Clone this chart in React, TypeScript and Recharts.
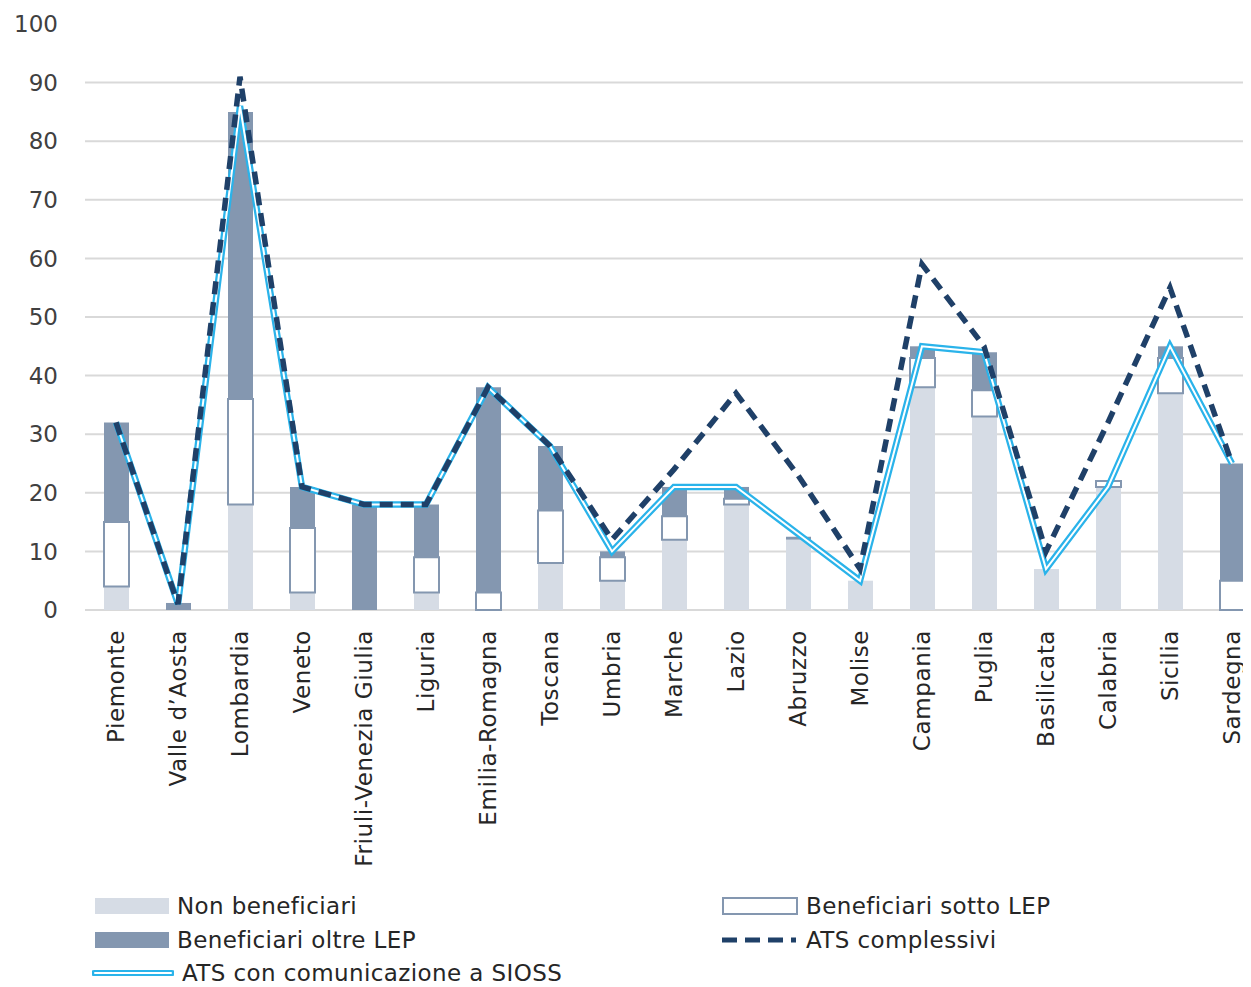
import { ComposedChart, Bar, Line, XAxis, YAxis, CartesianGrid } from 'recharts';

const categories = [
  'Piemonte', 'Valle d’Aosta', 'Lombardia', 'Veneto', 'Friuli-Venezia Giulia', 'Liguria',
  'Emilia-Romagna', 'Toscana', 'Umbria', 'Marche', 'Lazio', 'Abruzzo', 'Molise',
  'Campania', 'Puglia', 'Basilicata', 'Calabria', 'Sicilia', 'Sardegna',
];

const nonBeneficiari = [4, 0, 18, 3, 0, 3, 0, 8, 5, 12, 18, 12, 5, 38, 33, 7, 21, 37, 0];
const sottoLep = [11, 0, 18, 11, 0, 6, 3, 9, 4, 4, 1, 0, 0, 5, 4.5, 0, 1, 6, 5];
const oltreLep = [17, 1.2, 49, 7, 18, 9, 35, 11, 1, 5, 2, 0.5, 0, 2, 6.5, 0, 0, 2, 20];
const atsComplessivi = [32, 1, 91, 21, 18, 18, 38, 28, 12, 24, 37, 23, 7, 59, 45, 10, 32, 55, 25];
const atsSioss = [32, 1, 86, 21, 18, 18, 38, 28, 10, 21, 21, 13, 5, 45, 44, 7, 21, 45, 25];

const yTicks = [0, 10, 20, 30, 40, 50, 60, 70, 80, 90, 100];

const LIGHT = '#d6dce5';
const STEEL = '#8497b0';
const NAVY = '#1f4068';
const CYAN = '#2ab3ea';
const FONT = '"DejaVu Sans", sans-serif';

const W = 1290;
const H = 979;
const TOP = 16;
const PLOT_H = 586;

const data = categories.map((name, i) => ({
  name,
  non: nonBeneficiari[i],
  sotto: sottoLep[i],
  oltre: oltreLep[i],
  ats: atsComplessivi[i],
  sioss: atsSioss[i],
  siossInner: atsSioss[i],
}));

// no gridline on 100, like the original
const gridPoints = yTicks.filter(v => v < 100).map(v => TOP + PLOT_H * (1 - v / 100));

const XTick = (props: any) => {
  const { x, y, payload } = props;
  const ty = y + 20;
  return (
    <text
      x={x}
      y={ty}
      transform={`rotate(-90, ${x}, ${ty})`}
      textAnchor="end"
      dy="0.36em"
      fontSize={23}
      fontFamily={FONT}
      fill="#262626"
      letterSpacing={0.6}
    >
      {payload.value}
    </text>
  );
};

const legendText: React.CSSProperties = {
  fontFamily: FONT,
  fontSize: 23,
  lineHeight: '23px',
  color: '#262626',
  whiteSpace: 'nowrap',
  letterSpacing: 0.4,
};

function LegendItem({ left, cy, swatch, label }: { left: number; cy: number; swatch: React.ReactNode; label: string }) {
  return (
    <div style={{ position: 'absolute', left, top: cy - 12, height: 24, display: 'flex', alignItems: 'center' }}>
      {swatch}
      <span style={{ ...legendText, marginLeft: 8 }}>{label}</span>
    </div>
  );
}

export default function App() {
  return (
    <div style={{ position: 'relative', width: 1243, height: H, overflow: 'hidden', background: '#fff' }}>
      <ComposedChart
        width={W}
        height={H}
        data={data}
        margin={{ top: TOP, right: 35, left: 0, bottom: 77 }}
      >
        <CartesianGrid vertical={false} horizontalPoints={gridPoints} stroke="#d9d9d9" strokeWidth={2} />
        <XAxis
          dataKey="name"
          interval={0}
          axisLine={false}
          tickLine={false}
          tickSize={0}
          tickMargin={0}
          height={300}
          tick={<XTick />}
        />
        <YAxis
          domain={[0, 100]}
          ticks={yTicks}
          width={77}
          axisLine={false}
          tickLine={false}
          tickSize={0}
          tickMargin={27}
          tick={{ fontSize: 23, fontFamily: FONT, fill: '#404040' }}
        />
        <Bar dataKey="non" stackId="a" barSize={25} fill={LIGHT} isAnimationActive={false} />
        <Bar dataKey="sotto" stackId="a" barSize={25} fill="#ffffff" stroke={STEEL} strokeWidth={2} isAnimationActive={false} />
        <Bar dataKey="oltre" stackId="a" barSize={25} fill={STEEL} isAnimationActive={false} />
        <Line type="linear" dataKey="sioss" stroke={CYAN} strokeWidth={6.5} dot={false} activeDot={false} isAnimationActive={false} />
        <Line type="linear" dataKey="siossInner" stroke="#ffffff" strokeWidth={2} dot={false} activeDot={false} isAnimationActive={false} />
        <Line type="linear" dataKey="ats" stroke={NAVY} strokeWidth={5.5} strokeDasharray="13 8" dot={false} activeDot={false} isAnimationActive={false} />
      </ComposedChart>

      <LegendItem
        left={87}
        cy={898}
        label="Non beneficiari"
        swatch={<svg width={74} height={16}><rect x={0} y={0} width={74} height={16} fill={LIGHT} /></svg>}
      />
      <LegendItem
        left={714}
        cy={898}
        label="Beneficiari sotto LEP"
        swatch={<svg width={76} height={18}><rect x={1} y={1} width={74} height={16} fill="#fff" stroke={STEEL} strokeWidth={2} /></svg>}
      />
      <LegendItem
        left={87}
        cy={932}
        label="Beneficiari oltre LEP"
        swatch={<svg width={74} height={16}><rect x={0} y={0} width={74} height={16} fill={STEEL} /></svg>}
      />
      <LegendItem
        left={712}
        cy={932}
        label="ATS complessivi"
        swatch={<svg width={78} height={10}><line x1={2} y1={5} x2={76} y2={5} stroke={NAVY} strokeWidth={5} strokeDasharray="15 8" /></svg>}
      />
      <LegendItem
        left={84}
        cy={965}
        label="ATS con comunicazione a SIOSS"
        swatch={
          <svg width={82} height={10}>
            <line x1={2} y1={5} x2={80} y2={5} stroke={CYAN} strokeWidth={6} strokeLinecap="round" />
            <line x1={3} y1={5} x2={79} y2={5} stroke="#fff" strokeWidth={2} strokeLinecap="round" />
          </svg>
        }
      />
    </div>
  );
}
